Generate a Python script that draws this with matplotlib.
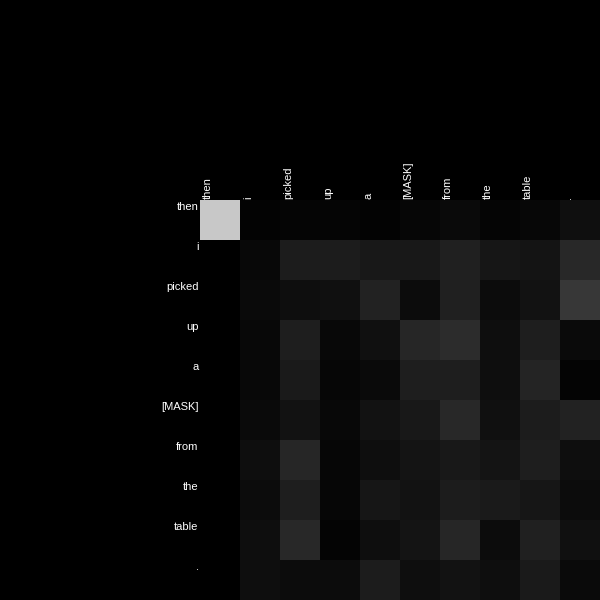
import numpy as np
from matplotlib import pyplot as plt
from matplotlib import transforms

# %%
# tokens (rows = query, cols = key)
tokens = ["then", "i", "picked", "up", "a", "[MASK]", "from", "the", "table", "."]

# attention weights (gray level / 255)
row_then  = [200, 3, 5, 5, 3, 6, 10, 5, 7, 15]
row_i     = [0, 8, 28, 28, 24, 24, 32, 22, 20, 40]
row_pick  = [0, 10, 14, 16, 34, 12, 32, 12, 18, 55]
row_up    = [0, 8, 30, 8, 16, 38, 45, 14, 30, 10]
row_a     = [0, 8, 26, 6, 10, 30, 30, 14, 36, 4]
row_mask  = [0, 10, 18, 8, 18, 24, 40, 16, 28, 34]
row_from  = [0, 14, 38, 6, 14, 20, 24, 20, 30, 14]
row_the   = [0, 12, 30, 6, 22, 18, 28, 26, 22, 12]
row_table = [0, 14, 40, 4, 14, 20, 38, 12, 32, 16]
row_dot   = [0, 14, 12, 12, 28, 14, 18, 14, 26, 10]

attn = np.array([row_then, row_i, row_pick, row_up, row_a,
                 row_mask, row_from, row_the, row_table, row_dot]) / 255.0

# %%
plt.rcParams['font.family'] = ['Liberation Sans', 'DejaVu Sans']

fig = plt.figure(figsize=(6, 6), dpi=100, facecolor="black")
ax = fig.add_axes([1/3, 0, 2/3, 2/3], facecolor="black")

n = len(tokens)
ax.imshow(attn, cmap="gray", vmin=0, vmax=1, extent=(0, n, n, 0),
          interpolation="nearest", aspect="auto")

ax.xaxis.tick_top()
ax.set_xticks(np.arange(n))
ax.set_xticklabels(tokens, rotation=90, ha="left", va="bottom",
                   color="white", fontsize=8)
ax.set_yticks(np.arange(n))
ax.set_yticklabels(tokens, ha="right", va="top", color="white", fontsize=8)
ax.tick_params(length=0, pad=1)
for s in ax.spines.values():
    s.set_visible(False)

# nudge labels a few pixels to sit like the original
shift_x = transforms.ScaledTranslation(3/100, 0, fig.dpi_scale_trans)
for lab in ax.get_xticklabels():
    lab.set_transform(lab.get_transform() + shift_x)
shift_y = transforms.ScaledTranslation(0, -2/100, fig.dpi_scale_trans)
for lab in ax.get_yticklabels():
    lab.set_transform(lab.get_transform() + shift_y)

fig.savefig("out.png", dpi=100, facecolor="black")
